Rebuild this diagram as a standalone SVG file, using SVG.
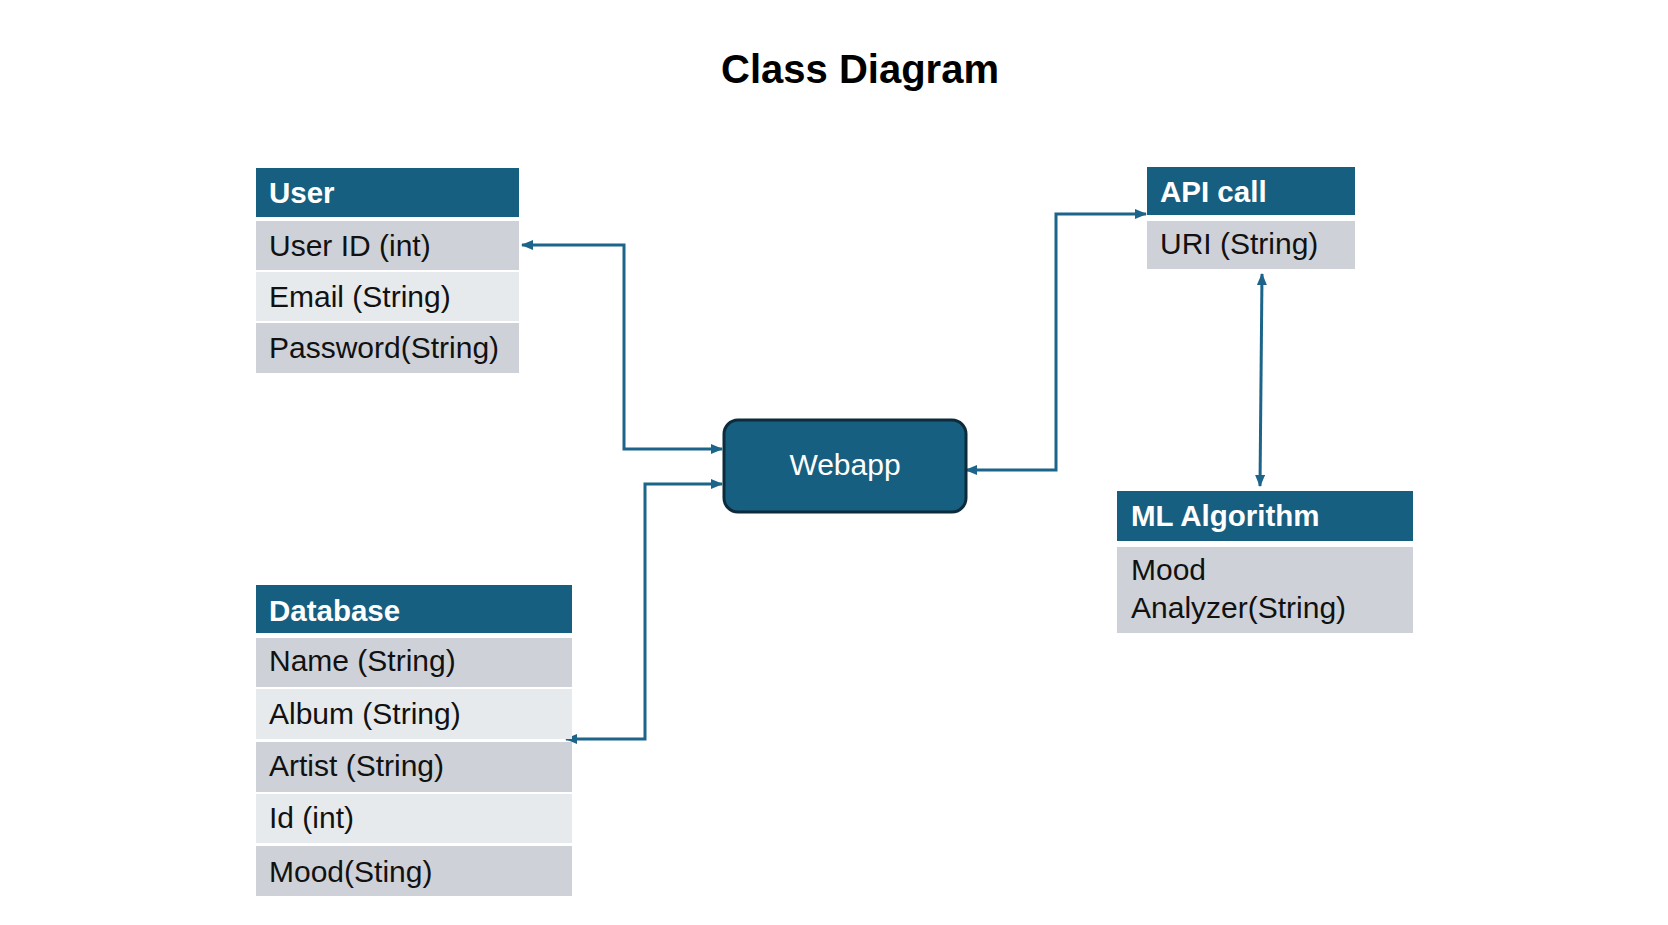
<svg xmlns="http://www.w3.org/2000/svg" width="1668" height="925" viewBox="0 0 1668 925">
<defs>
<style>
.hdr{fill:#175f80}
.rowd{fill:#ced2d8}
.rowl{fill:#e7eaed}
.ht{font-family:"Liberation Sans",Arial,sans-serif;font-weight:bold;font-size:29.5px;fill:#ffffff}
.rt{font-family:"Liberation Sans",Arial,sans-serif;font-size:30px;fill:#111111}
.conn{fill:none;stroke:#1c6489;stroke-width:3;marker-start:url(#ah);marker-end:url(#ah)}
</style>
<marker id="ah" viewBox="0 0 12 10" refX="11" refY="5" markerWidth="12" markerHeight="10" markerUnits="userSpaceOnUse" orient="auto-start-reverse">
<path d="M0,0 L12,5 L0,10 z" fill="#1c6489"/>
</marker>
</defs>
<rect width="1668" height="925" fill="#ffffff"/>
<text x="860" y="83" text-anchor="middle" font-family="Liberation Sans,Arial,sans-serif" font-weight="bold" font-size="40" fill="#000000">Class Diagram</text>

<g id="connectors">
<path class="conn" d="M 522 245 H 624 V 449 H 722"/>
<path class="conn" d="M 566 739 H 645 V 484 H 722"/>
<path class="conn" d="M 966 470 H 1056 V 214 H 1146"/>
<path class="conn" d="M 1262 274 L 1260 486"/>
</g>

<g id="user">
<rect class="hdr" x="256" y="168" width="263" height="49"/>
<text class="ht" x="269" y="203">User</text>
<rect class="rowd" x="256" y="221" width="263" height="49"/>
<text class="rt" x="269" y="256">User ID (int)</text>
<rect class="rowl" x="256" y="272" width="263" height="49"/>
<text class="rt" x="269" y="307">Email (String)</text>
<rect class="rowd" x="256" y="323" width="263" height="50"/>
<text class="rt" x="269" y="358">Password(String)</text>
</g>

<g id="database">
<rect class="hdr" x="256" y="585" width="316" height="48"/>
<text class="ht" x="269" y="621">Database</text>
<rect class="rowd" x="256" y="638" width="316" height="49"/>
<text class="rt" x="269" y="671">Name (String)</text>
<rect class="rowl" x="256" y="689" width="316" height="50"/>
<text class="rt" x="269" y="724">Album (String)</text>
<rect class="rowd" x="256" y="742" width="316" height="50"/>
<text class="rt" x="269" y="776">Artist (String)</text>
<rect class="rowl" x="256" y="794" width="316" height="49"/>
<text class="rt" x="269" y="828">Id (int)</text>
<rect class="rowd" x="256" y="846" width="316" height="50"/>
<text class="rt" x="269" y="882">Mood(Sting)</text>
</g>

<g id="webapp">
<rect x="724" y="420" width="242" height="92" rx="14" ry="14" fill="#175f80" stroke="#0d2b3b" stroke-width="3"/>
<text x="845" y="475" text-anchor="middle" font-family="Liberation Sans,Arial,sans-serif" font-size="30" fill="#ffffff">Webapp</text>
</g>

<g id="apicall">
<rect class="hdr" x="1147" y="167" width="208" height="48"/>
<text class="ht" x="1160" y="202">API call</text>
<rect class="rowd" x="1147" y="221" width="208" height="48"/>
<text class="rt" x="1160" y="254">URI (String)</text>
</g>

<g id="mlalgorithm">
<rect class="hdr" x="1117" y="491" width="296" height="50"/>
<text class="ht" x="1131" y="526">ML Algorithm</text>
<rect class="rowd" x="1117" y="547" width="296" height="86"/>
<text class="rt" x="1131" y="580">Mood</text>
<text class="rt" x="1131" y="618">Analyzer(String)</text>
</g>
</svg>
